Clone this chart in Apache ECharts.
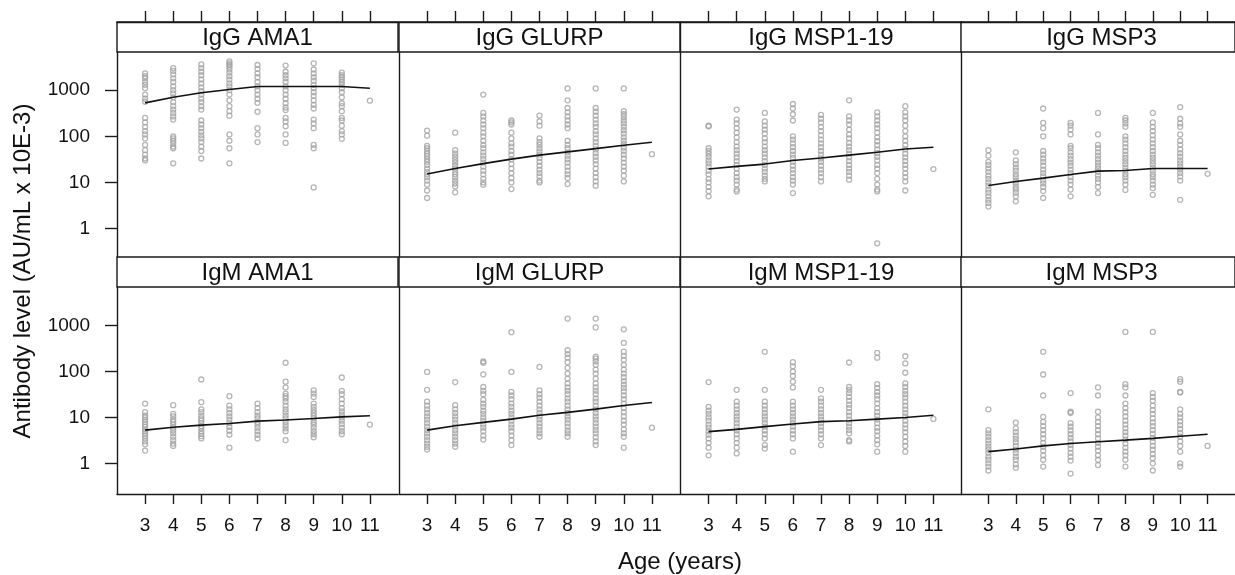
<!DOCTYPE html>
<html>
<head>
<meta charset="utf-8">
<script src="https://cdn.jsdelivr.net/npm/echarts@6/dist/echarts.min.js"></script>
<style>
html,body{margin:0;padding:0;background:#fff;}
#chart{width:1235px;height:575px;}
</style>
</head>
<body>
<div id="chart"></div>
<script>
// ---------------- DATA ----------------
const ages = [3, 4, 5, 6, 7, 8, 9, 10, 11];
const ageTicks = [3, 4, 5, 6, 7, 8, 9, 10, 11];
const yTicks = [1, 10, 100, 1000];
const panelTitles = ['IgG AMA1', 'IgG GLURP', 'IgG MSP1-19', 'IgG MSP3',
                     'IgM AMA1', 'IgM GLURP', 'IgM MSP1-19', 'IgM MSP3'];

// points per age (3..11), antibody level
const IgG_AMA1 = [
  [2300, 2000, 1800, 1500, 1300, 1100, 800, 650, 560, 250, 200, 160, 130, 110, 90, 65, 50, 40, 33, 30],
  [3000, 2600, 2200, 1800, 1500, 1200, 1000, 850, 700, 550, 450, 380, 320, 270, 230, 100, 90, 80, 70, 60, 55, 26],
  [3600, 3000, 2500, 2100, 1700, 1400, 1150, 950, 800, 650, 550, 450, 380, 220, 180, 150, 125, 105, 90, 75, 60, 48, 33],
  [4200, 3800, 3500, 3200, 2800, 2400, 2000, 1700, 1400, 1200, 1000, 800, 600, 450, 350, 280, 110, 80, 55, 26],
  [3500, 2900, 2300, 1900, 1500, 1200, 1000, 800, 650, 530, 340, 150, 110, 75],
  [3400, 2500, 2100, 1800, 1500, 1200, 1000, 800, 650, 520, 420, 370, 250, 210, 165, 110, 72],
  [3800, 2800, 2300, 1900, 1600, 1300, 1100, 900, 750, 600, 480, 400, 230, 190, 150, 65, 55, 7.8],
  [2400, 2100, 1900, 1700, 1500, 1300, 1100, 900, 700, 520, 450, 350, 250, 220, 170, 130, 110, 88],
  [590]
];
const IgG_GLURP = [
  [133, 103, 62, 55, 48, 42, 37, 32, 28, 24, 20, 17, 15, 13, 11, 9, 6.7, 4.6],
  [120, 50, 42, 36, 31, 27, 23, 20, 17, 15, 13, 11, 9.5, 8.2, 6.1],
  [800, 320, 270, 220, 180, 150, 120, 100, 80, 65, 55, 45, 38, 32, 27, 22, 18, 15, 12, 10, 8.9],
  [220, 200, 180, 120, 90, 70, 60, 48, 40, 32, 25, 20, 16, 12.5, 10, 7.2],
  [280, 210, 170, 90, 75, 65, 55, 47, 40, 34, 28, 23, 19, 16, 13.5, 11, 10],
  [1090, 600, 410, 330, 270, 220, 180, 150, 80, 65, 55, 45, 38, 32, 27, 22, 18, 15, 12.5, 9.2],
  [1090, 410, 340, 280, 230, 190, 160, 130, 110, 90, 75, 62, 52, 43, 36, 30, 25, 20, 16, 13, 10.5, 8.5],
  [1090, 350, 300, 260, 220, 190, 160, 135, 115, 95, 80, 68, 57, 48, 40, 33, 27, 22, 18, 14, 10.5],
  [41]
];
const IgG_MSP119 = [
  [170, 165, 55, 48, 42, 36, 30, 26, 22, 18, 15, 12, 10, 8, 6.5, 5],
  [380, 230, 190, 150, 120, 95, 75, 60, 50, 42, 35, 29, 24, 20, 16, 13, 11, 9, 7, 6.4],
  [320, 210, 170, 140, 115, 90, 75, 60, 50, 42, 35, 29, 24, 20, 17, 14, 12, 10.5],
  [500, 400, 300, 220, 100, 85, 70, 58, 48, 40, 34, 28, 23, 19, 16, 13, 11, 9, 5.9],
  [290, 240, 200, 160, 130, 105, 85, 70, 58, 48, 40, 33, 28, 23, 19, 16, 13, 10.5],
  [600, 270, 220, 180, 140, 110, 90, 72, 60, 50, 42, 35, 29, 24, 20, 17, 14, 11.5],
  [330, 270, 220, 180, 150, 120, 95, 78, 64, 52, 43, 36, 30, 24, 20, 16, 12, 9, 7, 6.4, 0.48],
  [450, 330, 270, 220, 170, 130, 100, 80, 65, 52, 42, 35, 29, 24, 20, 16, 13, 10.5, 6.7],
  [19.5]
];
const IgG_MSP3 = [
  [50, 38, 28, 24, 20, 17, 14, 12, 10, 8.5, 7, 6, 5, 4.2, 3.6, 3],
  [45, 30, 25, 21, 18, 15, 13, 11, 9.5, 8, 7, 6, 5, 3.9],
  [400, 195, 150, 100, 48, 40, 33, 28, 23, 19, 16, 13.5, 11, 9.5, 8, 6.5, 4.6],
  [195, 170, 140, 110, 62, 55, 45, 38, 32, 27, 23, 19, 16, 13, 11, 9, 7, 5],
  [320, 110, 65, 55, 45, 38, 32, 27, 23, 20, 17, 14, 12, 10, 8, 5.9],
  [250, 220, 190, 160, 100, 85, 70, 58, 48, 40, 34, 29, 25, 21, 18, 15, 13, 11, 9, 6.9],
  [320, 200, 160, 130, 105, 85, 70, 58, 48, 40, 34, 29, 25, 21, 18, 15, 13, 11, 9, 7.5, 5.4],
  [430, 240, 190, 160, 110, 80, 65, 52, 43, 36, 30, 26, 22, 19, 16, 13.5, 11, 4.2],
  [15.4]
];
const IgM_AMA1 = [
  [20, 13, 11, 10, 9, 8, 7, 6.2, 5.5, 5, 4.5, 4, 3.5, 3, 2.6, 1.9],
  [18.5, 12, 10.5, 9, 8, 7, 6, 5.2, 4.5, 3.8, 3.2, 2.7, 2.4],
  [67, 21.5, 15, 13, 11, 9.5, 8.5, 7.5, 6.5, 5.8, 5, 4.4, 3.9, 3.5],
  [29, 18, 15, 12.5, 10.5, 9, 7.5, 6.2, 5.2, 4.2, 2.2],
  [20, 16, 13, 11, 9.5, 8, 7, 6, 5, 4.2, 3.5],
  [155, 60, 45, 33, 29, 26, 22, 18, 15, 13, 11, 9.5, 8, 6.8, 5.8, 5, 3.2],
  [39, 33, 28, 20, 17, 14.5, 12.5, 11, 9.5, 8, 7, 6, 5, 4.3, 3.7],
  [74, 38, 32, 25, 20, 16, 13.5, 11.5, 10, 8.5, 7.2, 6, 5, 4.3],
  [7]
];
const IgM_GLURP = [
  [98, 40, 22, 18, 15, 12.5, 10.5, 9, 7.5, 6.3, 5.3, 4.5, 3.8, 3.2, 2.7, 2.3, 2],
  [59, 18.5, 15, 12.5, 10.5, 9, 7.5, 6.3, 5.3, 4.5, 3.8, 3.2, 2.7, 2.3],
  [165, 155, 87, 46, 38, 32, 24, 20, 17, 14, 12, 10, 8.5, 7, 6, 5, 4, 3.3],
  [720, 98, 36, 30, 25, 20, 17, 14, 12, 10, 8.5, 7, 6, 5, 4, 3.2, 2.5],
  [126, 39, 32, 27, 22, 18, 15, 12.5, 10.5, 9, 7.5, 6.3, 5.3, 4.5, 3.8],
  [1420, 290, 240, 200, 160, 120, 90, 70, 55, 45, 38, 32, 26, 22, 18, 15, 12.5, 10.5, 9, 7.5, 6.3, 5.2, 4.5, 3.8],
  [1420, 910, 210, 190, 165, 140, 110, 90, 70, 55, 45, 38, 32, 26, 22, 18, 15, 12.5, 10.5, 9, 7.5, 6.3, 5.3, 4.5, 3.7, 3, 2.5],
  [830, 420, 270, 220, 180, 140, 110, 90, 75, 62, 52, 44, 37, 30, 25, 20, 16, 13, 10.5, 8.5, 7, 5.5, 4.5, 3.8, 2.2],
  [6]
];
const IgM_MSP119 = [
  [59, 17, 14, 12, 10, 8.5, 7, 6, 5, 4.2, 3.5, 2.8, 2.2, 1.5],
  [40, 22, 18, 15, 12.5, 10.5, 9, 7.5, 6.3, 5.2, 4.3, 3.5, 2.8, 2.2, 1.65],
  [268, 40, 22, 18, 15, 12.5, 10.5, 9, 7.5, 6.3, 5.2, 4.3, 3.5, 2.5, 2.1],
  [160, 130, 100, 80, 60, 45, 22, 18, 15, 12.5, 10.5, 9, 7.5, 6.3, 5.2, 4.3, 3.5, 1.8],
  [40, 26, 22, 18, 15, 12.5, 10.5, 9, 7.5, 6.3, 5.2, 4.3, 3.5, 2.5],
  [157, 46, 40, 34, 28, 23, 19, 16, 13, 11, 9, 7.5, 6.3, 5.3, 4.5, 3.2, 3],
  [255, 200, 53, 44, 36, 30, 25, 20, 16, 13, 11, 9, 7.5, 6, 5, 4, 3.2, 2.6, 1.8],
  [215, 150, 94, 55, 46, 38, 32, 27, 22, 18, 15, 12.5, 10.5, 8.5, 7, 5.8, 4.8, 3.8, 3, 2.4, 1.8],
  [9.3]
];
const IgM_MSP3 = [
  [15, 5.3, 4.5, 3.8, 3.2, 2.7, 2.3, 2, 1.7, 1.4, 1.2, 1, 0.85, 0.7],
  [7.7, 5.8, 4.8, 4, 3.4, 2.9, 2.4, 2, 1.7, 1.4, 1.2, 0.95, 0.8],
  [268, 86, 30, 10.3, 8, 6.5, 5.3, 4.3, 3.5, 2.8, 2.3, 1.9, 1.5, 1.2, 0.85],
  [34, 13.3, 12.5, 7.5, 6.3, 5.2, 4.3, 3.6, 3, 2.5, 2.1, 1.7, 1.4, 1.15, 0.6],
  [45, 30, 13.3, 10, 8, 6.5, 5.3, 4.3, 3.5, 2.8, 2.3, 1.9, 1.5, 1.2, 0.92],
  [727, 53, 45, 30, 20, 16, 13, 10.5, 8.5, 7, 5.8, 4.8, 4, 3.3, 2.7, 2.2, 1.8, 1.5, 1.2, 0.85],
  [727, 34, 28, 23, 18, 14.5, 12, 9.5, 7.8, 6.5, 5.3, 4.4, 3.6, 3, 2.4, 2, 1.6, 1.3, 1, 0.7],
  [68, 60, 36, 35, 15, 12, 10, 8.2, 6.8, 5.6, 4.6, 3.8, 3, 2.4, 1.8, 1.0, 0.85],
  [2.4]
];

// fitted curves at ages 3..11
const IgG_AMA1_fit   = [530, 700, 880, 1030, 1200, 1200, 1200, 1200, 1100];
const IgG_GLURP_fit  = [15.2, 20, 25.6, 32, 39, 46, 54, 64, 74];
const IgG_MSP119_fit = [19.5, 22.3, 25, 30, 33.8, 39, 45, 53, 58];
const IgG_MSP3_fit   = [8.6, 10.5, 12.4, 14.9, 17.6, 18.2, 20, 20, 20];
const IgM_AMA1_fit   = [5.3, 6.1, 6.8, 7.4, 8.3, 8.8, 9.5, 10.3, 10.9];
const IgM_GLURP_fit  = [5.3, 6.6, 7.8, 9.2, 11.2, 12.9, 15.2, 18.2, 21.2];
const IgM_MSP119_fit = [4.9, 5.5, 6.3, 7.2, 8.1, 8.5, 9.2, 10, 11.2];
const IgM_MSP3_fit   = [1.8, 2.05, 2.4, 2.7, 2.96, 3.2, 3.5, 3.9, 4.3];

// ---------------- BUILD ----------------
const panelPoints = [IgG_AMA1, IgG_GLURP, IgG_MSP119, IgG_MSP3, IgM_AMA1, IgM_GLURP, IgM_MSP119, IgM_MSP3];
const panelFits = [IgG_AMA1_fit, IgG_GLURP_fit, IgG_MSP119_fit, IgG_MSP3_fit, IgM_AMA1_fit, IgM_GLURP_fit, IgM_MSP119_fit, IgM_MSP3_fit];

const FONT = '"Liberation Sans", Arial, Helvetica, sans-serif';
const TXT = '#111';
const BORDER = '#1a1a1a';
const LW = 1.4;
const colLefts = [117, 399, 680.5, 961];
const colWidth = 281;
const plotTops = [52, 287];
const plotHeights = [205, 207];
const stripTops = [22, 257];
const stripH = 30;
const yMin = [Math.pow(10, -0.615), Math.pow(10, -0.667)];
const yMax = [Math.pow(10, 3.826), Math.pow(10, 3.84)];

const grid = [], xAxis = [], yAxis = [], series = [], graphic = [];
for (let i = 0; i < 8; i++) {
  const r = Math.floor(i / 4), c = i % 4;
  grid.push({left: colLefts[c], top: plotTops[r], width: colWidth, height: plotHeights[r], show: false});
  const isTop = r === 0;
  xAxis.push({
    type: 'value', gridIndex: i, min: 2, max: 12,
    position: isTop ? 'top' : 'bottom',
    offset: isTop ? stripH : 0,
    axisLine: {show: true, lineStyle: {color: BORDER, width: LW}},
    axisTick: {show: true, inside: false, length: isTop ? 11 : 10, customValues: ageTicks, lineStyle: {color: BORDER, width: LW}},
    axisLabel: {show: !isTop, customValues: ageTicks, margin: 22, color: TXT, fontSize: 19, fontFamily: FONT},
    splitLine: {show: false}
  });
  yAxis.push({
    type: 'log', logBase: 10, gridIndex: i, min: yMin[r], max: yMax[r],
    axisLine: {show: true, lineStyle: {color: BORDER, width: LW}},
    axisTick: {show: c === 0, inside: false, length: 12, customValues: yTicks, lineStyle: {color: BORDER, width: LW}},
    axisLabel: {show: c === 0, customValues: yTicks, margin: 27, color: TXT, fontSize: 19, fontFamily: FONT,
      formatter: v => String(Math.round(v))},
    splitLine: {show: false}
  });
  const pts = [];
  panelPoints[i].forEach((vals, k) => vals.forEach(v => pts.push([ages[k], v])));
  series.push({
    type: 'scatter', xAxisIndex: i, yAxisIndex: i, data: pts, symbol: 'circle', symbolSize: 5,
    itemStyle: {color: 'rgba(0,0,0,0)', borderColor: '#a4a4a4', borderWidth: 1.3}, silent: true, z: 2
  });
  series.push({
    type: 'line', xAxisIndex: i, yAxisIndex: i, data: ages.map((a, k) => [a, panelFits[i][k]]),
    showSymbol: false, lineStyle: {color: '#111', width: 1.6}, silent: true, z: 3
  });
}
// strip grids
for (let i = 0; i < 8; i++) {
  const r = Math.floor(i / 4), c = i % 4;
  grid.push({left: colLefts[c], top: stripTops[r], width: c === 3 ? 300 : colWidth, height: stripH,
    show: true, borderColor: BORDER, borderWidth: LW, backgroundColor: '#fff'});
  xAxis.push({type: 'value', gridIndex: 8 + i, min: 0, max: 1, show: false});
  yAxis.push({type: 'value', gridIndex: 8 + i, min: 0, max: 1, show: false});
  graphic.push({type: 'text', x: colLefts[c] + colWidth / 2, y: stripTops[r] + stripH / 2 + 1,
    style: {text: panelTitles[i], fill: TXT, font: '24px ' + FONT, textAlign: 'center', textVerticalAlign: 'middle'}, z: 10});
}
graphic.push({type: 'text', x: 23, y: 271, rotation: Math.PI / 2,
  style: {text: 'Antibody level (AU/mL x 10E-3)', fill: TXT, font: '24px ' + FONT, textAlign: 'center', textVerticalAlign: 'middle'}});
graphic.push({type: 'text', x: 680, y: 562,
  style: {text: 'Age (years)', fill: TXT, font: '24px ' + FONT, textAlign: 'center', textVerticalAlign: 'middle'}});

const chart = echarts.init(document.getElementById('chart'), null, {renderer: 'canvas'});
chart.setOption({animation: false, grid, xAxis, yAxis, series, graphic});
</script>
</body>
</html>
